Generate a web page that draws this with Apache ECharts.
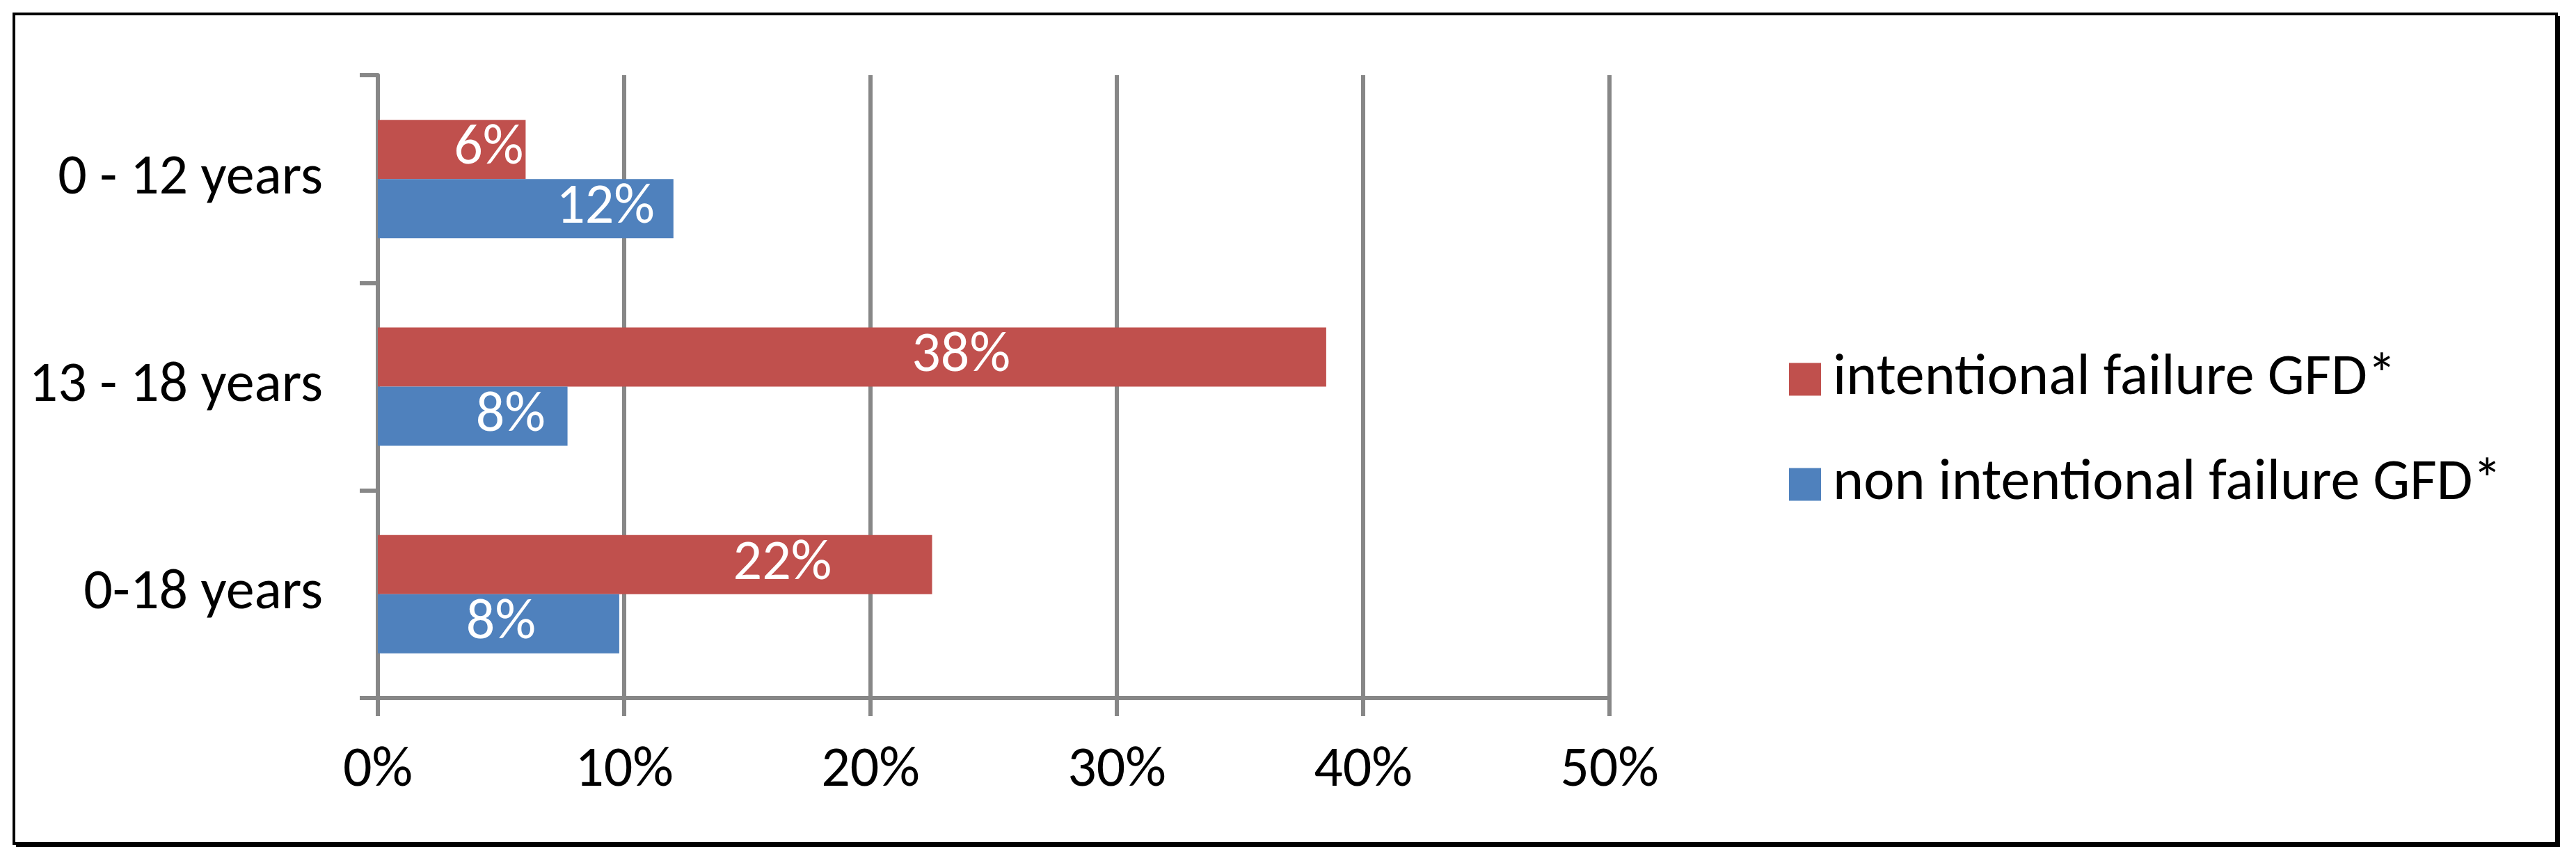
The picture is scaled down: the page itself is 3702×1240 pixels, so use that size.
<!DOCTYPE html>
<html>
<head>
<meta charset="utf-8">
<script src="https://cdn.jsdelivr.net/npm/echarts@6/dist/echarts.min.js"></script>
<style>
html,body{margin:0;padding:0;background:#fff;}
#chart{width:3702px;height:1240px;}
</style>
</head>
<body>
<div id="chart"></div>
<script>
// ---- data ----
const categories = ['0 - 12 years', '13 - 18 years', '0-18 years'];
const seriesNames = ['intentional failure GFD*', 'non intentional failure GFD*'];
const intentional = [6.0, 38.5, 22.5];
const nonIntentional = [12.0, 7.7, 9.8];
const intentionalLabels = ['6%', '38%', '22%'];
const nonIntentionalLabels = ['12%', '8%', '8%'];
const xTickLabels = ['0%', '10%', '20%', '30%', '40%', '50%'];

// label anchor (fraction of bar length) – style only
const intentionalLabelAt = ['75%', '61.5%', '73%'];
const nonIntentionalLabelAt = ['77%', '70%', '51%'];

const FONT = 'Carlito, Lato, "Liberation Sans", sans-serif';
const GRAY = '#878787';

function mk(values, labels, anchors) {
  return values.map((v, i) => ({
    value: v,
    label: {
      show: true,
      position: [anchors[i], '50%'],
      align: 'center',
      verticalAlign: 'middle',
      formatter: labels[i],
      color: '#fff',
      fontSize: 82,
      fontFamily: FONT
    }
  }));
}

const chart = echarts.init(document.getElementById('chart'), null, {renderer: 'canvas'});
chart.setOption({
  animation: false,
  backgroundColor: '#fff',
  graphic: [
    {type: 'rect', z: -20, shape: {x: 23, y: 23, width: 3656, height: 1194}, style: {fill: '#000'}},
    {type: 'rect', z: -19, shape: {x: 20, y: 20, width: 3654, height: 1192}, style: {fill: '#fff', stroke: '#000', lineWidth: 4}}
  ],
  grid: {left: 543, top: 108, right: 1389, bottom: 237, containLabel: false},
  legend: {
    orient: 'vertical',
    left: 2566,
    top: 498,
    itemWidth: 46,
    itemHeight: 47,
    itemGap: 67,
    icon: 'rect',
    data: seriesNames,
    textStyle: {fontSize: 84, fontFamily: FONT, color: '#000', padding: [0, 0, 0, 12]}
  },
  xAxis: {
    type: 'value',
    min: 0, max: 50, interval: 10,
    axisLine: {show: true, lineStyle: {color: GRAY, width: 6}},
    axisTick: {show: true, length: 26, lineStyle: {color: GRAY, width: 6}},
    splitLine: {show: true, lineStyle: {color: GRAY, width: 6}},
    axisLabel: {
      margin: 64,
      fontSize: 82, fontFamily: FONT, color: '#000',
      formatter: (v) => xTickLabels[Math.round(v / 10)]
    }
  },
  yAxis: {
    type: 'category',
    data: categories,
    inverse: true,
    axisLine: {show: true, lineStyle: {color: GRAY, width: 6}},
    axisTick: {show: true, length: 26, lineStyle: {color: GRAY, width: 6}},
    axisLabel: {margin: 79, fontSize: 82, fontFamily: FONT, color: '#000'}
  },
  series: [
    {
      name: seriesNames[0], type: 'bar',
      data: mk(intentional, intentionalLabels, intentionalLabelAt),
      itemStyle: {color: '#C0504D'},
      barGap: '0%', barCategoryGap: '43%'
    },
    {
      name: seriesNames[1], type: 'bar',
      data: mk(nonIntentional, nonIntentionalLabels, nonIntentionalLabelAt),
      itemStyle: {color: '#4F81BD'},
      barGap: '0%', barCategoryGap: '43%'
    }
  ]
});
</script>
</body>
</html>
